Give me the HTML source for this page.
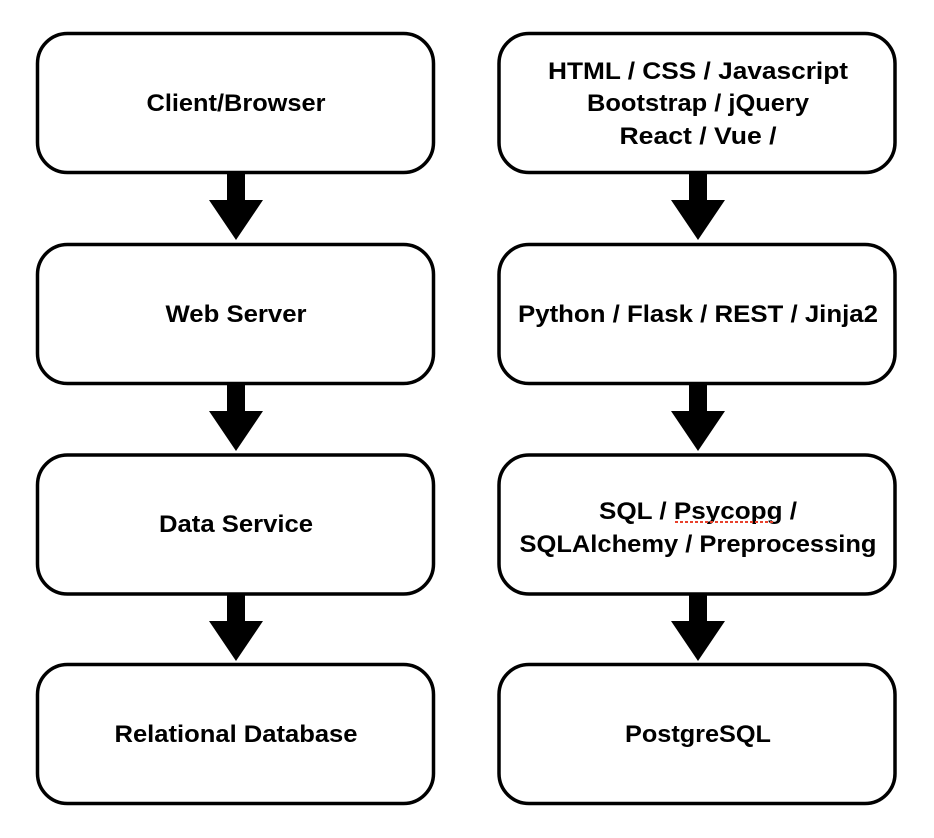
<!DOCTYPE html>
<html><head><style>html,body{margin:0;padding:0;background:#fff;width:934px;height:838px;overflow:hidden}</style></head>
<body>
<svg width="934" height="838" xmlns="http://www.w3.org/2000/svg" font-family="Liberation Sans, Arial, sans-serif" font-weight="bold" font-size="24" text-anchor="middle">
<g fill="#fff" stroke="#000" stroke-width="3.5">
<rect x="37.5" y="33.5" width="396" height="139" rx="30"/>
<rect x="37.5" y="244.5" width="396" height="139" rx="30"/>
<rect x="37.5" y="455" width="396" height="139" rx="30"/>
<rect x="37.5" y="664.5" width="396" height="139" rx="30"/>
<rect x="499" y="33.5" width="396" height="139" rx="30"/>
<rect x="499" y="244.5" width="396" height="139" rx="30"/>
<rect x="499" y="455" width="396" height="139" rx="30"/>
<rect x="499" y="664.5" width="396" height="139" rx="30"/>
</g>
<g fill="#000">
<g id="a"><rect x="227" y="174" width="18" height="28"/><polygon points="209,200 263,200 236,240"/></g>
<use href="#a" y="211"/><use href="#a" y="421"/>
<use href="#a" x="462"/><use href="#a" x="462" y="211"/><use href="#a" x="462" y="421"/>
</g>
<g fill="#000">
<text x="236" y="111" textLength="179" lengthAdjust="spacingAndGlyphs">Client/Browser</text>
<text x="236" y="322" textLength="141" lengthAdjust="spacingAndGlyphs">Web Server</text>
<text x="236" y="532" textLength="154" lengthAdjust="spacingAndGlyphs">Data Service</text>
<text x="236" y="742" textLength="243" lengthAdjust="spacingAndGlyphs">Relational Database</text>
<text x="698" y="79" textLength="300" lengthAdjust="spacingAndGlyphs">HTML / CSS / Javascript</text>
<text x="698" y="111" textLength="222" lengthAdjust="spacingAndGlyphs">Bootstrap / jQuery</text>
<text x="698" y="144" textLength="157" lengthAdjust="spacingAndGlyphs">React / Vue /</text>
<text x="698" y="322" textLength="360" lengthAdjust="spacingAndGlyphs">Python / Flask / REST / Jinja2</text>
<text x="698" y="519" textLength="198" lengthAdjust="spacingAndGlyphs">SQL / Psycopg /</text>
<text x="698" y="552" textLength="357" lengthAdjust="spacingAndGlyphs">SQLAlchemy / Preprocessing</text>
<text x="698" y="742" textLength="146" lengthAdjust="spacingAndGlyphs">PostgreSQL</text>
</g>
<line x1="675" y1="522" x2="775" y2="522" stroke="#e8412c" stroke-width="2" stroke-dasharray="3,2"/>
</svg>
</body></html>
